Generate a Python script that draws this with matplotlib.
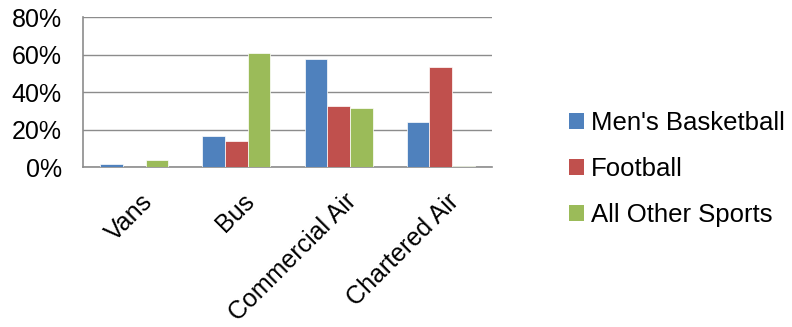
import matplotlib
matplotlib.use("Agg")
import matplotlib.pyplot as plt
import matplotlib.transforms as mtransforms
import numpy as np
from matplotlib.patches import Patch

categories = ["Vans", "Bus", "Commercial Air", "Chartered Air"]
series_names = ["Men's Basketball", "Football", "All Other Sports"]
mens_basketball = [1.6, 16.7, 57.8, 24.2]
football = [0.0, 13.9, 32.7, 53.5]
all_other = [3.7, 60.8, 31.6, 0.7]
colors = ["#4F81BD", "#C0504D", "#9BBB59"]
yticks = [0, 20, 40, 60, 80]

plt.rcParams['font.family'] = ['Liberation Sans', 'DejaVu Sans']
fig = plt.figure(figsize=(7.92, 3.27), dpi=100)
ax = fig.add_axes([0.105, 0.488, 0.516, 0.46])

x = np.arange(len(categories))
w = 1 / 4.5
for i, (vals, c) in enumerate(zip([mens_basketball, football, all_other], colors)):
    ax.bar(x + (i - 1) * w, vals, width=w, color=c, edgecolor='white', linewidth=0.5, zorder=3)

ax.set_xlim(-0.5, 3.5)
ax.set_ylim(0, 80)
ax.set_yticks(yticks)
ax.set_yticklabels([f"{v}%" for v in yticks], fontsize=18)
ax.yaxis.grid(True, color='#8c8c8c', linewidth=1, zorder=0)
ax.tick_params(axis='y', length=0, pad=15.5)
ax.tick_params(axis='x', length=0, pad=0)
ax.set_xticks(x)
labels = ax.set_xticklabels(categories, rotation=45, ha='right', va='top',
                            rotation_mode='anchor', fontsize=18)
offset = mtransforms.ScaledTranslation(6 / 100, -22 / 100, fig.dpi_scale_trans)
for lab in labels:
    lab.set_transform(lab.get_transform() + offset)
for s in ['top', 'right']:
    ax.spines[s].set_visible(False)
for s in ['left', 'bottom']:
    ax.spines[s].set_color('#8c8c8c')
    ax.spines[s].set_linewidth(1.2)

handles = [Patch(facecolor=c, edgecolor='none') for c in colors]
fig.legend(handles, series_names, loc='center left', bbox_to_anchor=(0.7184, 0.483),
           frameon=False, fontsize=18.5, handlelength=0.57, handleheight=0.57,
           handletextpad=0.3, labelspacing=0.85, borderpad=0, borderaxespad=0)

fig.savefig("out.png", dpi=100)
